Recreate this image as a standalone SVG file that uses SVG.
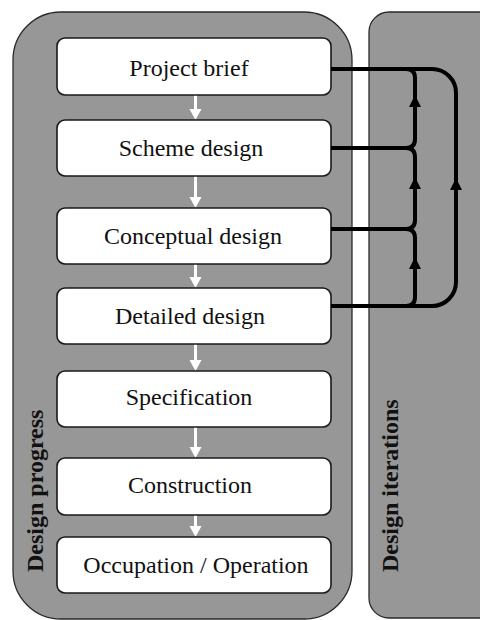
<svg xmlns="http://www.w3.org/2000/svg" width="480" height="620" viewBox="0 0 480 620">
  <style>
    .panel { fill: #979797; stroke: #2a2a2a; stroke-width: 1.3; }
    .box { fill: #ffffff; stroke: #1a1a1a; stroke-width: 1.6; }
    .label { font-family: "Liberation Serif", "DejaVu Serif", serif; font-size: 24px; fill: #111; text-anchor: middle; }
    .side { font-family: "Liberation Serif", "DejaVu Serif", serif; font-size: 24px; font-weight: bold; fill: #111; }
    .flow { fill: none; stroke: #000; stroke-width: 4; stroke-linejoin: round; }
    .step { stroke: #fff; stroke-width: 3; }
  </style>
  <defs>
    <!-- black upward arrowhead, tip at origin -->
    <path id="up" d="M0,0 L6,12 L-6,12 Z" fill="#000"/>
    <!-- white downward arrowhead, tip at origin -->
    <path id="down" d="M0,0 L-6,-11 L6,-11 Z" fill="#fff"/>
  </defs>

  <rect width="480" height="620" fill="#fff"/>

  <!-- background panels -->
  <g id="panel-progress">
    <rect class="panel" x="13" y="12" width="339" height="607" rx="48" ry="48"/>
    <text class="side" transform="translate(43,572) rotate(-90)">Design progress</text>
  </g>
  <g id="panel-iterations">
    <rect class="panel" x="369" y="12" width="130" height="606" rx="20" ry="20"/>
    <text class="side" transform="translate(398,572) rotate(-90)">Design iterations</text>
  </g>

  <!-- white step arrows between stages -->
  <g id="step-arrows">
    <line class="step" x1="195.5" y1="95" x2="195.5" y2="110"/>
    <use href="#down" x="195.5" y="120"/>
    <line class="step" x1="195.5" y1="176" x2="195.5" y2="198"/>
    <use href="#down" x="195.5" y="208"/>
    <line class="step" x1="195.5" y1="264" x2="195.5" y2="278"/>
    <use href="#down" x="195.5" y="288"/>
    <line class="step" x1="195.5" y1="344" x2="195.5" y2="361"/>
    <use href="#down" x="195.5" y="371"/>
    <line class="step" x1="195.5" y1="427" x2="195.5" y2="448"/>
    <use href="#down" x="195.5" y="458"/>
    <line class="step" x1="195.5" y1="515" x2="195.5" y2="527"/>
    <use href="#down" x="195.5" y="537"/>
  </g>

  <!-- stage nodes -->
  <g id="project-brief">
    <rect class="box" x="57" y="38" width="274" height="57" rx="8"/>
    <text class="label" x="189" y="76">Project brief</text>
  </g>
  <g id="scheme-design">
    <rect class="box" x="57" y="120" width="274" height="56" rx="8"/>
    <text class="label" x="191" y="156">Scheme design</text>
  </g>
  <g id="conceptual-design">
    <rect class="box" x="57" y="208" width="274" height="56" rx="8"/>
    <text class="label" x="193" y="244">Conceptual design</text>
  </g>
  <g id="detailed-design">
    <rect class="box" x="57" y="288" width="274" height="56" rx="8"/>
    <text class="label" x="190" y="323.5">Detailed design</text>
  </g>
  <g id="specification">
    <rect class="box" x="57" y="371" width="274" height="56" rx="8"/>
    <text class="label" x="189" y="405">Specification</text>
  </g>
  <g id="construction">
    <rect class="box" x="57" y="458" width="274" height="57" rx="8"/>
    <text class="label" x="190" y="493">Construction</text>
  </g>
  <g id="occupation-operation">
    <rect class="box" x="57" y="537" width="274" height="56" rx="8"/>
    <text class="label" x="196" y="573">Occupation / Operation</text>
  </g>

  <!-- iteration feedback connectors -->
  <g id="connectors">
    <path class="flow" d="M331,69 H432 A24,24 0 0 1 456,93 V282 A24,24 0 0 1 432,306 H331"/>
    <path class="flow" d="M331,148 H407"/>
    <path class="flow" d="M331,229 H407"/>
    <path class="flow" d="M406,69 Q415,69 415,78 V139 Q415,148 406,148"/>
    <path class="flow" d="M406,148 Q415,148 415,157 V220 Q415,229 406,229"/>
    <path class="flow" d="M406,229 Q415,229 415,238 V297 Q415,306 406,306"/>
    <use href="#up" x="415" y="95"/>
    <use href="#up" x="415" y="177"/>
    <use href="#up" x="415" y="257"/>
    <use href="#up" x="456" y="178"/>
  </g>
</svg>
